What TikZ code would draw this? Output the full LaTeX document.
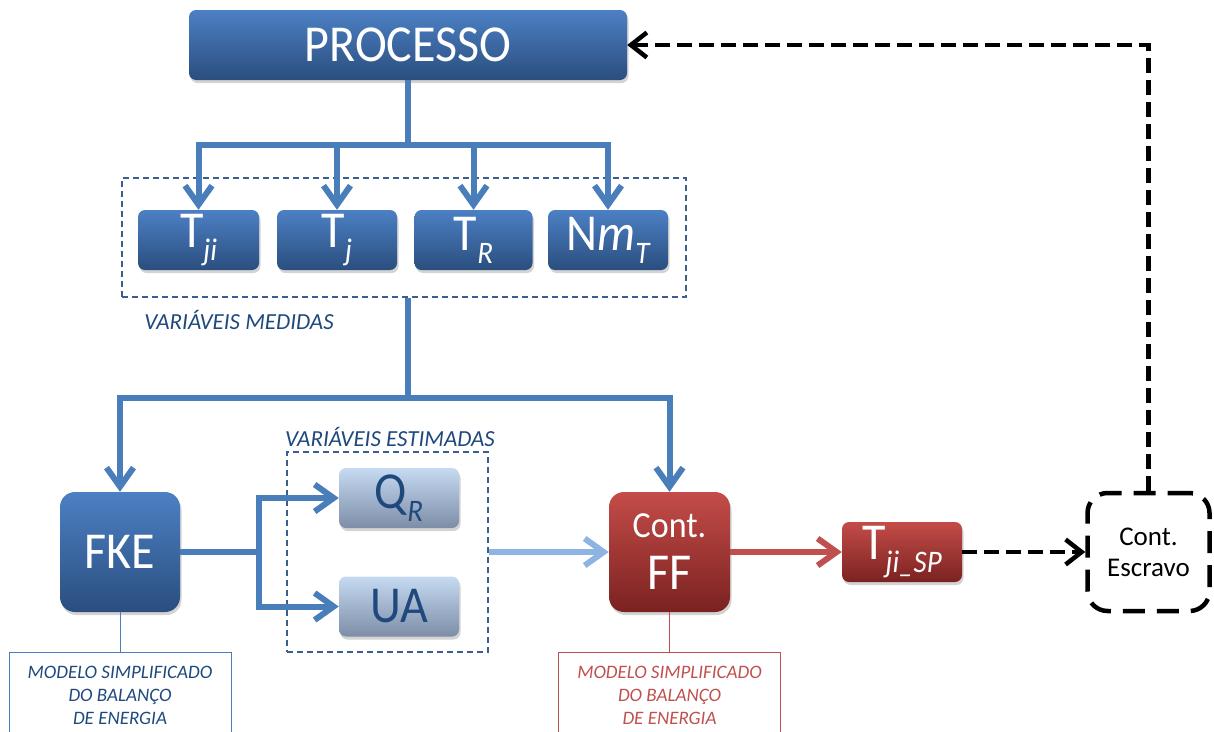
\documentclass[tikz,border=0pt]{standalone}
\usepackage{fontspec}
\setmainfont{Carlito}
\usetikzlibrary{arrows.meta,shadows}
\definecolor{btop}{HTML}{4C80C4}
\definecolor{bbot}{HTML}{2A4E7E}
\definecolor{rtop}{HTML}{C44C48}
\definecolor{rbot}{HTML}{7A2221}
\definecolor{ltop}{HTML}{C6DAF2}
\definecolor{lbot}{HTML}{7D8DA7}
\definecolor{dtext}{HTML}{1F497D}
\definecolor{barrow}{HTML}{4A7EBB}
\definecolor{larrow}{HTML}{8EB4E3}
\definecolor{rarrow}{HTML}{C0504D}
\definecolor{gline}{HTML}{3A5F8F}
\newcommand\sbs[1]{\raisebox{-0.25em}{\fontsize{29}{29}\selectfont\itshape #1}}
\newcommand\tall[1]{\scalebox{1}[1.08]{#1}}
\begin{document}
\begin{tikzpicture}[x=1pt,y=-1pt,
  bbox/.style={rounded corners=7pt, top color=btop, bottom color=bbot, text=white, inner sep=0pt,
    font=\fontsize{48}{52}\selectfont,
    drop shadow={shadow xshift=1.5pt,shadow yshift=-3pt,opacity=0.35}},
  rbox/.style={bbox, top color=rtop, bottom color=rbot},
  lbox/.style={bbox, top color=ltop, bottom color=lbot, text=dtext},
  bl/.style={draw=barrow, line width=6pt},
  barb/.style={-{Straight Barb[length=19pt,width=27pt]}},
  grp/.style={draw=gline, line width=1.2pt, dash pattern=on 6pt off 4pt},
  grplabel/.style={text=dtext, font=\fontsize{23}{26}\selectfont\itshape},
  blk/.style={draw=black, line width=4.5pt, dash pattern=on 15pt off 7pt},
  modbox/.style={draw, line width=0.8pt, anchor=north, minimum width=222pt, minimum height=86pt,
    align=center, inner sep=0pt, font=\fontsize{19}{23}\selectfont\itshape}
]
\useasboundingbox (0,0) rectangle (1214,731);
\clip (0,0) rectangle (1214,731);

% measured group box
\node[grp, minimum width=564pt, minimum height=119pt] (med) at (404,237.5) {};
\node[grplabel] (medl) at (239,320) {VARIÁVEIS MEDIDAS};
% estimated group box
\node[grp, minimum width=201pt, minimum height=200pt] (est) at (387.5,552) {};
\node[grplabel] (estl) at (390,437) {VARIÁVEIS ESTIMADAS};

% boxes
\node[bbox, minimum width=438pt, minimum height=70pt] (proc) at (408,45) {\tall{PROCESSO}};
\node[bbox, minimum width=121pt, minimum height=60pt] (tji) at (198.5,240) {\tall{T\sbs{ji}}};
\node[bbox, minimum width=120pt, minimum height=60pt] (tj) at (337,240) {\tall{T\sbs{j}}};
\node[bbox, minimum width=118pt, minimum height=60pt] (tr) at (473.5,240) {\tall{T\sbs{R}}};
\node[bbox, minimum width=120pt, minimum height=60pt] (nmt) at (608,240) {\tall{N\textit{m}\sbs{T}}};
\node[bbox, rounded corners=15pt, minimum width=120pt, minimum height=120pt] (fke) at (120,552) {\tall{FKE}};
\node[lbox, minimum width=120pt, minimum height=60pt] (qr) at (399,498) {\tall{Q\sbs{R}}};
\node[lbox, minimum width=120pt, minimum height=60pt] (ua) at (399,606.5) {\tall{UA}};
\node[rbox, rounded corners=15pt, minimum width=121pt, minimum height=120pt, align=center]
  (ff) at (669.5,552) {\fontsize{34}{40}\selectfont \tall{Cont.}\\\fontsize{48}{55}\selectfont \tall{FF}};
\node[rbox, minimum width=120pt, minimum height=60pt] (tsp) at (902,552) {\tall{T\sbs{ji\_SP}}};
\node[draw=black, line width=4.5pt, dash pattern=on 22pt off 12pt, rounded corners=20pt,
  minimum width=122pt, minimum height=118pt, align=center,
  font=\fontsize{27}{31}\selectfont] (esc) at (1148.5,552) {Cont.\\Escravo};

% model boxes
\node[modbox, draw=barrow, text=dtext] (mod1) at (120,652) {MODELO SIMPLIFICADO\\DO BALANÇO\\DE ENERGIA};
\node[modbox, draw=rarrow, text=rarrow] (mod2) at (669.5,652) {MODELO SIMPLIFICADO\\DO BALANÇO\\DE ENERGIA};

% connectors: process to measurements
\coordinate (j1) at (408,145);
\draw[bl] (proc.south) -- (j1);
\draw[bl, barb] (j1) -| (tji.north);
\draw[bl, barb] (j1) -| (tj.north);
\draw[bl, barb] (j1) -| (tr.north);
\draw[bl, barb] (j1) -| (nmt.north);

% measurements to FKE and FF
\coordinate (j2) at (408,398);
\draw[bl] (j1 |- med.south) -- (j2);
\draw[bl, barb] (j2) -| (fke.north);
\draw[bl, barb] (j2) -| (ff.north);

% FKE to estimates
\coordinate (j3) at (259,552);
\draw[bl] (fke.east) -- (j3);
\draw[bl, barb] (j3) |- (qr.west);
\draw[bl, barb] (j3) |- (ua.west);

% estimates to FF
\draw[draw=larrow, line width=6pt, barb] (est.east) -- (ff.west);
% FF to setpoint
\draw[draw=rarrow, line width=6pt, barb] (ff.east) -- (tsp.west);
% setpoint to slave controller
\draw[blk, -{Straight Barb[length=16pt,width=25pt]}] (tsp.east) -- (esc.west);
% slave controller back to process
\draw[blk, -{Straight Barb[length=16pt,width=25pt]}] (esc.north) |- (proc.east);

% model links
\draw[draw=barrow, line width=0.8pt] (fke.south) -- (mod1.north);
\draw[draw=rarrow, line width=0.8pt] (ff.south) -- (mod2.north);
\end{tikzpicture}
\end{document}
